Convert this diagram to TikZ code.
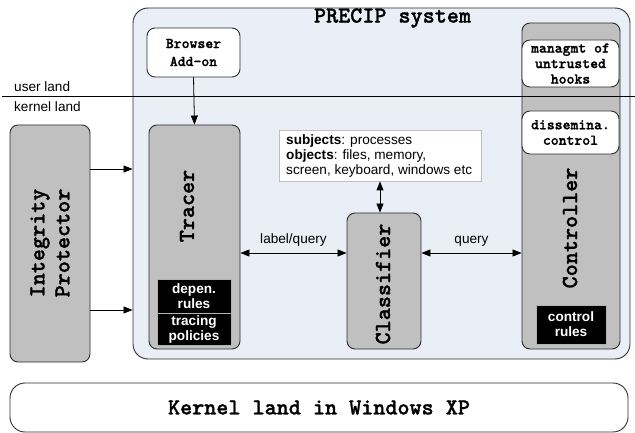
\documentclass[tikz,border=0pt]{standalone}
\usepackage{fontspec}
\setmainfont{Liberation Sans}
\setmonofont{lmmono10-regular}[Extension=.otf, BoldFont=lmmonolt10-bold, BoldFeatures={FakeBold=1.2}]
\usetikzlibrary{arrows.meta}

\definecolor{precipblue}{RGB}{233,238,247}
\definecolor{boxgray}{RGB}{192,192,192}
\definecolor{edgegray}{RGB}{45,45,45}

\tikzset{
  box/.style={draw=edgegray, line width=0.9pt, rounded corners=8pt, inner sep=0pt},
  graybox/.style={box, fill=boxgray},
  whitebox/.style={box, fill=white, align=center, font=\fontsize{15}{15.5}\selectfont\ttfamily\bfseries},
  blackbox/.style={fill=black, draw=gray!60, line width=0.6pt, text=white, align=center, inner sep=0pt, font=\fontsize{13.6}{15}\selectfont\bfseries},
  bigmono/.style={font=\fontsize{23}{25}\selectfont\ttfamily\bfseries},
  sidetext/.style={bigmono, rotate=90, align=center, inner sep=0pt},
  plain/.style={font=\fontsize{13.6}{15}\selectfont, inner sep=0pt},
  arr/.style={-{Triangle[length=9pt,width=7pt]}, line width=0.8pt},
  darr/.style={{Triangle[length=9pt,width=7pt]}-{Triangle[length=9pt,width=7pt]}, line width=0.8pt},
}

\begin{document}
\begin{tikzpicture}[x=1pt,y=1pt,yscale=-1]
    \useasboundingbox (0,0) rectangle (635,433);

    % PRECIP system frame
    \node [box, fill=precipblue, rounded corners=15pt, minimum width=497, minimum height=351] (precip) at (381.5,183.5) {};
    \node [bigmono, inner sep=0pt] (title) at (392.5,18) {PRECIP system};

    % user space part
    \node [whitebox, font=\fontsize{15}{18}\selectfont\ttfamily\bfseries, minimum width=93, minimum height=49] (browser) at (193.5,52.5) {Browser\\Add-on};

    % Tracer
    \node [graybox, minimum width=91, minimum height=224] (tracer) at (194.5,237) {};
    \node [sidetext] (tracer-txt) at (187,206) {Tracer};
    \node [blackbox, minimum width=74, minimum height=34] (deprules) at (194,296) {depen.\\rules};
    \node [blackbox, minimum width=74, minimum height=32] (tracepol) at (194,329) {tracing\\policies};

    % Integrity Protector
    \node [graybox, minimum width=80, minimum height=237] (integrity) at (50,243.5) {};
    \node [sidetext] (integrity-txt) at (50,243) {Integrity\\Protector};

    % subjects / objects
    \node [draw=gray!50, fill=white, line width=0.8pt, minimum width=202, minimum height=51, inner sep=0pt] (info) at (380,155.5) {};
    \node [plain, align=left, anchor=west] (info-txt) at (286,155.5) {\textbf{subjects}: processes\\\textbf{objects}: files, memory,\\screen, keyboard, windows etc};

    % Classifier
    \node [graybox, minimum width=74, minimum height=136] (classifier) at (384,281) {};
    \node [sidetext] (classifier-txt) at (383,284) {Classifier};

    % Controller
    \node [graybox, minimum width=98, minimum height=326] (controller) at (571,186) {};
    \node [whitebox, minimum width=97, minimum height=47] (hooks) at (570.5,63.5) {managmt of\\untrusted\\hooks};
    \node [whitebox, minimum width=97, minimum height=43] (dissem) at (570.5,132.5) {dissemina.\\control};
    \node [sidetext] (controller-txt) at (570,228) {Controller};
    \node [blackbox, minimum width=70, minimum height=39] (ctrlrules) at (571,324.5) {control\\rules};

    % Windows kernel
    \node [box, rounded corners=15pt, minimum width=618, minimum height=49, bigmono] (kernel) at (319,407.5) {Kernel land in Windows XP};

    % user land / kernel land border
    \coordinate (ul-l) at (2,96);
    \coordinate (ul-r) at (635,96);
    \draw [line width=0.8pt] (ul-l) -- (ul-r);
    \node [plain, anchor=west] (userland) at (14,87) {user land};
    \node [plain, anchor=west] (kernelland) at (14,107) {kernel land};

    % connectors
    \coordinate (ip-a) at (0,169);
    \coordinate (ip-b) at (0,310);
    \coordinate (q) at (0,253);
    \draw [arr] (integrity.east |- ip-a) -- (precip.west |- ip-a);
    \draw [arr] (integrity.east |- ip-b) -- (precip.west |- ip-b);
    \draw [arr] (browser.south) -- (tracer.north);
    \draw [darr] (info.south) -- (info.south |- classifier.north);
    \draw [darr] (tracer.east |- q) -- node [plain, above=6pt] (lq-txt) {label/query} (classifier.west |- q);
    \draw [darr] (classifier.east |- q) -- node [plain, above=6pt] (q-txt) {query} (controller.west |- q);

\end{tikzpicture}
\end{document}
